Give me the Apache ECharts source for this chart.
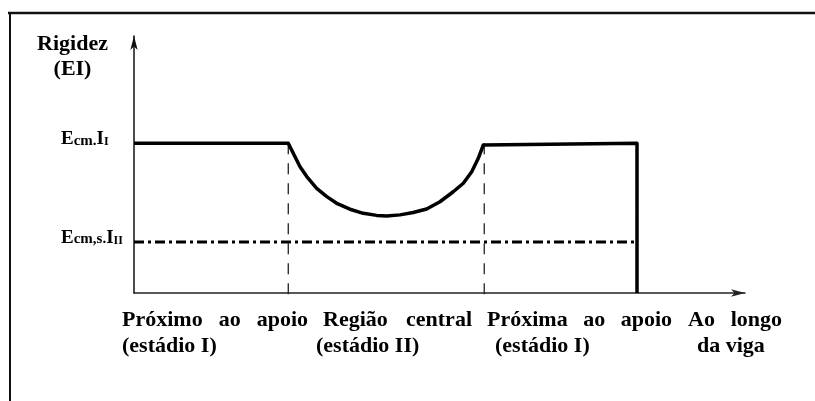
<!DOCTYPE html>
<html>
<head>
<meta charset="utf-8">
<style>
  html, body { margin: 0; padding: 0; background: #fff; }
  #chart { width: 815px; height: 401px; }
</style>
<script src="https://cdn.jsdelivr.net/npm/echarts@6/dist/echarts.min.js"></script>
</head>
<body>
<div id="chart"></div>
<script>
// Position along the beam (arbitrary length units) and bending stiffness EI (relative units)
const stiffnessX = [0, 10.1, 10.54, 10.87, 11.31, 11.96, 12.62, 13.27, 14.14, 15.01, 15.89, 16.54,
                    17.41, 18.28, 19.16, 20.03, 20.9, 21.56, 22.11, 22.54, 22.87, 22.93, 32.93, 32.93];
const stiffnessY = [58.3, 58.3, 53.0, 49.1, 45.3, 40.7, 37.5, 34.9, 32.6, 31.0, 30.2, 30.0,
                    30.4, 31.3, 32.7, 35.5, 39.4, 42.7, 47.2, 52.4, 57.6, 58.3, 58.3, 0];

// Reference stiffness levels: uncracked (stage I) and cracked (stage II)
const uncrackedEI = 58.3;
const crackedEI = 19.8;
const crackedX = [0, 32.93];

// Limits between the support zones and the central region
const regionLimits = [10.1, 22.93];
const limitBottom = -3.9;

// Texts
const yAxisTitle = ['Rigidez', '(EI)'];
const yTickValues = [uncrackedEI, crackedEI];
const yTickLabels = ['{b|E}{s|cm.}{b|I}{t|I}', '{b|E}{s|cm,s.}{b|I}{t|II}'];
const regionNames = ['Próximo ao apoio', 'Região central', 'Próxima ao apoio', 'Ao longo'];
const regionStages = ['(estádio I)', '(estádio II)', '(estádio I)', 'da viga'];

const FONT = '"Liberation Serif", "Times New Roman", serif';
const labelSize = 22;

const chart = echarts.init(document.getElementById('chart'), null, { renderer: 'canvas' });

// measure text so that the first row of each caption can be justified in its box
const measureCtx = document.createElement('canvas').getContext('2d');
function textWidth(str, size) {
  measureCtx.font = 'bold ' + size + 'px ' + FONT;
  return measureCtx.measureText(str).width;
}

const captionBoxes = [[122, 308], [323, 472], [487, 672], [688, 782]];
const stageLefts = [122, 316, 495, 697];
const row1Y = 320.6, row2Y = 346.6;

const graphics = [];
// frame (top and left edges)
graphics.push({ type: 'line', shape: { x1: 8, y1: 13, x2: 815, y2: 13 },
  style: { stroke: '#111', lineWidth: 2.5 }, silent: true });
graphics.push({ type: 'line', shape: { x1: 10, y1: 12, x2: 10, y2: 401 },
  style: { stroke: '#111', lineWidth: 2 }, silent: true });

// axis title
yAxisTitle.forEach((t, i) => {
  graphics.push({ type: 'text', x: 72.5, y: i === 0 ? 44.5 : 69.5,
    style: { text: t, fontFamily: FONT, fontWeight: 'bold', fontSize: 22, fill: '#000',
      align: 'center', verticalAlign: 'middle' }, silent: true });
});

// captions under the axis
regionNames.forEach((name, i) => {
  const words = name.split(' ');
  const [x0, x1] = captionBoxes[i];
  const widths = words.map(w => textWidth(w, labelSize));
  const total = widths.reduce((a, b) => a + b, 0);
  const gap = words.length > 1 ? (x1 - x0 - total) / (words.length - 1) : 0;
  let x = x0;
  words.forEach((w, k) => {
    graphics.push({ type: 'text', x: x, y: row1Y,
      style: { text: w, fontFamily: FONT, fontWeight: 'bold', fontSize: labelSize, fill: '#000',
        align: 'left', verticalAlign: 'middle' }, silent: true });
    x += widths[k] + gap;
  });
});
regionStages.forEach((s, i) => {
  graphics.push({ type: 'text', x: stageLefts[i], y: row2Y,
    style: { text: s, fontFamily: FONT, fontWeight: 'bold', fontSize: labelSize, fill: '#000',
      align: 'left', verticalAlign: 'middle' }, silent: true });
});

const option = {
  animation: false,
  backgroundColor: '#fff',
  grid: { left: 134, right: 70, top: 36, bottom: 108, containLabel: false },
  xAxis: {
    type: 'value', min: 0, max: 40,
    axisLine: { show: true, symbol: ['none', 'arrow'], symbolSize: [5.5, 14],
      lineStyle: { color: '#222', width: 1.5 } },
    axisTick: { show: false }, axisLabel: { show: false }, splitLine: { show: false }
  },
  yAxis: {
    type: 'value', min: 0, max: 100,
    axisLine: { show: true, symbol: ['none', 'arrow'], symbolSize: [5.5, 14],
      lineStyle: { color: '#111', width: 1.5 } },
    axisTick: { show: false }, splitLine: { show: false },
    axisLabel: {
      show: true, customValues: yTickValues, align: 'left', margin: 73,
      padding: [0, 0, 9, 0],
      formatter: function (v) { return yTickLabels[yTickValues.indexOf(v)]; },
      rich: {
        b: { fontFamily: FONT, fontWeight: 'bold', fontSize: 19, color: '#000', verticalAlign: 'bottom' },
        s: { fontFamily: FONT, fontWeight: 'bold', fontSize: 15, color: '#000', verticalAlign: 'bottom' },
        t: { fontFamily: FONT, fontWeight: 'bold', fontSize: 12, color: '#000', verticalAlign: 'bottom' }
      }
    }
  },
  series: [
    {
      name: 'limit-left', type: 'line', clip: false, symbol: 'none', silent: true,
      data: [[regionLimits[0], uncrackedEI], [regionLimits[0], limitBottom]],
      lineStyle: { color: '#222', width: 1.3, type: [11, 9] }, z: 1
    },
    {
      name: 'limit-right', type: 'line', clip: false, symbol: 'none', silent: true,
      data: [[regionLimits[1], uncrackedEI], [regionLimits[1], limitBottom]],
      lineStyle: { color: '#222', width: 1.3, type: [11, 9] }, z: 1
    },
    {
      name: 'EI cracked', type: 'line', symbol: 'none', silent: true,
      data: crackedX.map(x => [x, crackedEI]),
      lineStyle: { color: '#000', width: 3, type: [10, 4, 3, 4] }, z: 2
    },
    {
      name: 'EI', type: 'line', symbol: 'none', silent: true, clip: false,
      data: stiffnessX.map((x, i) => [x, stiffnessY[i]]),
      lineStyle: { color: '#000', width: 3.5, join: 'round' }, z: 3
    }
  ],
  graphic: { elements: graphics }
};

chart.setOption(option);
</script>
</body>
</html>
